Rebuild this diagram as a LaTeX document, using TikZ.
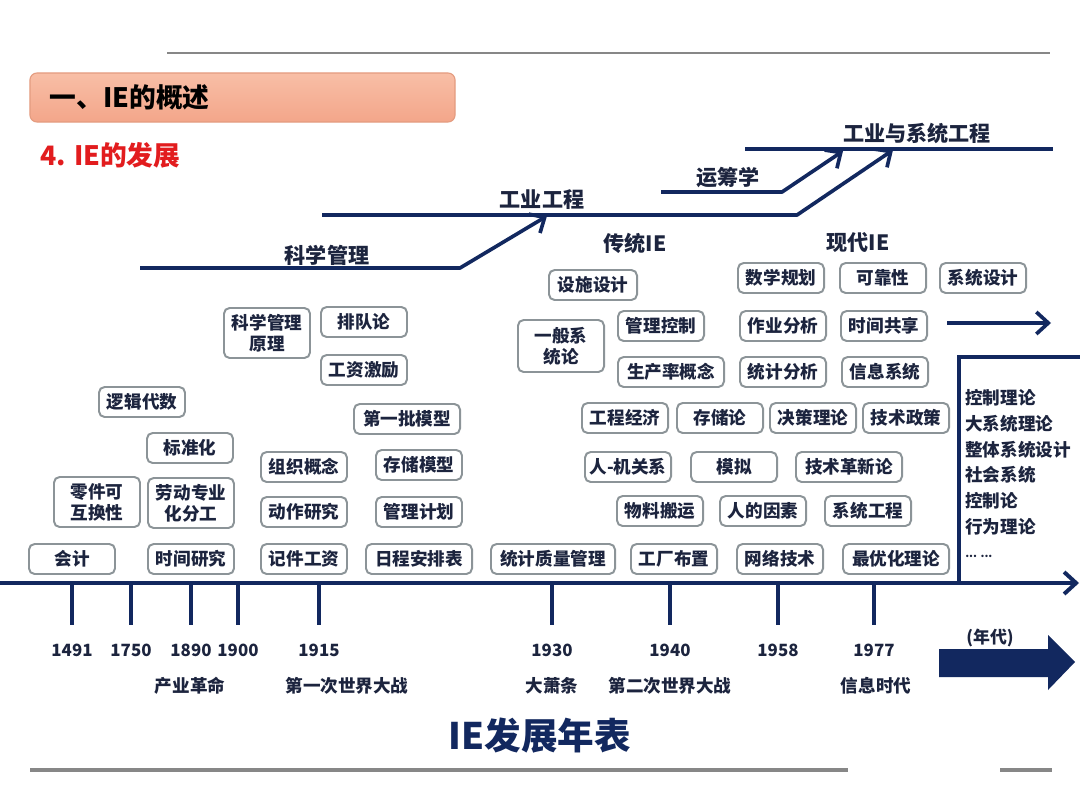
\documentclass[tikz,border=0pt]{standalone}
\usepackage{fontspec}
\setmainfont{Noto Sans CJK SC}
\usetikzlibrary{positioning,arrows.meta}
\definecolor{navy}{RGB}{18,40,95}
\definecolor{boxgray}{RGB}{140,148,152}
\definecolor{ink}{RGB}{28,36,62}
\definecolor{rulegray}{RGB}{135,135,135}
\definecolor{salmonhi}{RGB}{248,190,166}
\definecolor{salmonlo}{RGB}{243,166,138}
\definecolor{salmonedge}{RGB}{228,156,128}
\definecolor{titlered}{RGB}{226,28,30}

\begin{document}
\begin{tikzpicture}[x=0.025cm, y=-0.025cm,
    box/.style={rectangle, draw=boxgray, line width=1.4pt, rounded corners=4pt, fill=white, text=ink,
        font=\fontsize{12.5}{15}\selectfont\bfseries, align=center, inner sep=0pt,
        minimum width=2.15cm, minimum height=0.75cm},
    wide/.style={box, minimum width=2.65cm},
    tall/.style={box, minimum height=1.25cm},
    flow/.style={navy, line width=2.6pt, line join=round, -{Straight Barb[length=3mm,width=5.5mm]}},
    era/.style={text=ink, font=\fontsize{15}{18}\selectfont\bfseries},
    year/.style={text=ink, font=\fontsize{12}{14}\selectfont\bfseries},
    event/.style={text=ink, font=\fontsize{12.5}{15}\selectfont\bfseries},
    tick/.style={navy, line width=2.3pt},
    hdr/.style={rectangle, rounded corners=5pt, draw=salmonedge, line width=0.8pt,
        top color=salmonhi, bottom color=salmonlo, minimum width=10.625cm, minimum height=1.225cm}]

    \fill[white] (0,0) rectangle (1080,810);
    \useasboundingbox (0,0) rectangle (1080,810);

    % page rules and headings
    \draw[rulegray, line width=2pt] (167,53) -- (1050,53);
    \draw[rulegray, line width=2.3pt] (30,770) -- (848,770);
    \draw[rulegray, line width=2.3pt] (1000,770) -- (1052,770);
    \node[hdr] (hdr) at (242.5,97.5) {};
    \node[anchor=west, inner sep=0pt, font=\fontsize{19}{22}\selectfont\bfseries] at ([xshift=0.5cm]hdr.west) {一、IE的概述};
    \node[anchor=west, inner sep=0pt, text=titlered, font=\fontsize{19}{22}\selectfont\bfseries] (sub) at (40,155) {4. IE的发展};

    % development lines
    \coordinate (a0) at (140,268); \coordinate (a1) at (460,268); \coordinate (a2) at (547,216);
    \coordinate (b0) at (322,215); \coordinate (b1) at (797,215); \coordinate (b2) at (893,150);
    \coordinate (c0) at (661,192); \coordinate (c1) at (782,192); \coordinate (c2) at (843,151);
    \coordinate (d0) at (745,149); \coordinate (d1) at (1053,149);
    \draw[flow, -] (d0) -- (d1);
    \draw[flow] (a0) -- (a1) -- (a2);
    \draw[flow] (b0) -- (b1) -- (b2);
    \draw[flow] (c0) -- (c1) -- (c2);
    \node[era] (kxgl) at (327,255) {科学管理};
    \node[era] (gygc) at (542,200) {工业工程};
    \node[era] (ycx) at (728,178) {运筹学};
    \node[era] (xtgcl) at (917,133) {工业与系统工程};
    \node[era] (ctie) at (635,243) {传统IE};
    \node[era] (xdie) at (858,243) {现代IE};

    % early boxes
    \node[tall] (kxglyl) at (267,333) {科学管理\\原理};
    \node[box] (pdl) at (364,322) {排队论};
    \node[box] (gzjl) at (364,370) {工资激励};
    \node[box] (ljds) at (142,402) {逻辑代数};
    \node[wide] (dypmx) at (407,419) {第一批模型};
    \node[box] (bzh) at (190,448) {标准化};
    \node[box] (zzgn) at (304,467) {组织概念};
    \node[box] (ccmx) at (419,465) {存储模型};
    \node[tall] (ljhh) at (97,502) {零件可\\互换性};
    \node[tall] (ldfg) at (191,503) {劳动专业\\化分工};
    \node[box] (dzyj) at (304,512) {动作研究};
    \node[box] (gljh) at (419,512) {管理计划};
    \node[box] (kj) at (72,559) {会计};
    \node[box] (sjyj) at (191,559) {时间研究};
    \node[box] (jjgz) at (304,559) {记件工资};
    \node[wide] (rcap) at (419,559) {日程安排表};

    % later boxes
    \node[box, minimum width=2.2cm] (sssj) at (593,285) {设施设计};
    \node[box] (sxgh) at (781,278) {数学规划};
    \node[box] (kkx) at (883,278) {可靠性};
    \node[box] (xtsj) at (983,278) {系统设计};
    \node[tall, minimum height=1.3cm] (ybxt) at (561,346) {一般系\\统论};
    \node[box] (glkz) at (661,326) {管理控制};
    \node[box] (zyfx) at (783,326) {作业分析};
    \node[box] (sjgx) at (884,326) {时间共享};
    \node[wide] (sclgn) at (671,372) {生产率概念};
    \node[box] (tjfx) at (783,372) {统计分析};
    \node[box] (xxxt) at (885,372) {信息系统};
    \node[box] (gcjj) at (625,418) {工程经济};
    \node[box] (ccl) at (720,418) {存储论};
    \node[box] (jcll) at (813,418) {决策理论};
    \node[box] (jszc) at (906,418) {技术政策};
    \node[box] (rjgx) at (628,467) {人-机关系};
    \node[box] (mn) at (734,467) {模拟};
    \node[wide] (jsgx) at (849,467) {技术革新论};
    \node[box] (wlby) at (660,511) {物料搬运};
    \node[box] (rdys) at (763,511) {人的因素};
    \node[box] (xtgc) at (868,511) {系统工程};
    \node[box, minimum width=3.1cm] (tjzl) at (553,559) {统计质量管理};
    \node[box] (gcbz) at (674,559) {工厂布置};
    \node[box] (wljs) at (780,559) {网络技术};
    \node[wide] (yhll) at (896,559) {最优化理论};

    \coordinate (fut0) at (947,323); \coordinate (fut1) at (1051,323);
    \draw[flow] (fut0) -- (fut1);

    % future list
    \coordinate (br0) at (1080,357); \coordinate (br1) at (959,357); \coordinate (br2) at (959,583);
    \draw[navy, line width=2.6pt] (br0) -- (br1) -- (br2);
    \foreach \t [count=\i] in {控制理论,大系统理论,整体系统设计,社会系统,控制论,行为理论}
        \node[event, anchor=west, inner sep=0pt] (fl\i) at (965,372+25.8*\i) {\t};
    \node[anchor=west, inner sep=0pt, text=ink, font=\fontsize{8}{9}\selectfont\bfseries] (fl7) at (965,556) {... ...};

    % time axis
    \coordinate (ax0) at (0,583); \coordinate (ax1) at (1079,583);
    \draw[navy, line width=2.8pt, -{Straight Barb[length=3mm,width=5.5mm]}] (ax0) -- (ax1);
    \foreach \x/\yr in {72/1491,131/1750,191/1890,238/1900,319/1915,552/1930,670/1940,778/1958,874/1977}{
        \coordinate (tk\yr) at (\x,583);
        \coordinate (te\yr) at (\x,625);
        \draw[tick] (tk\yr) -- (te\yr);
        \node[year] (y\yr) at (\x,650) {\yr};
    }
    \node[event] (ev1) at (190,686) {产业革命};
    \node[event] (ev2) at (347,686) {第一次世界大战};
    \node[event] (ev3) at (552,686) {大萧条};
    \node[event] (ev4) at (670,686) {第二次世界大战};
    \node[event] (ev5) at (876,686) {信息时代};

    \node[year] (nd) at (990,638) {(年代)};
    \fill[navy] (939,649) -- (1048,649) -- (1048,635) -- (1075,662) -- (1048,690) -- (1048,677) -- (939,677) -- cycle;

    \node[text=navy, font=\fontsize{26}{30}\selectfont\bfseries] (ttl) at (540,736) {IE发展年表};
\end{tikzpicture}
\end{document}
